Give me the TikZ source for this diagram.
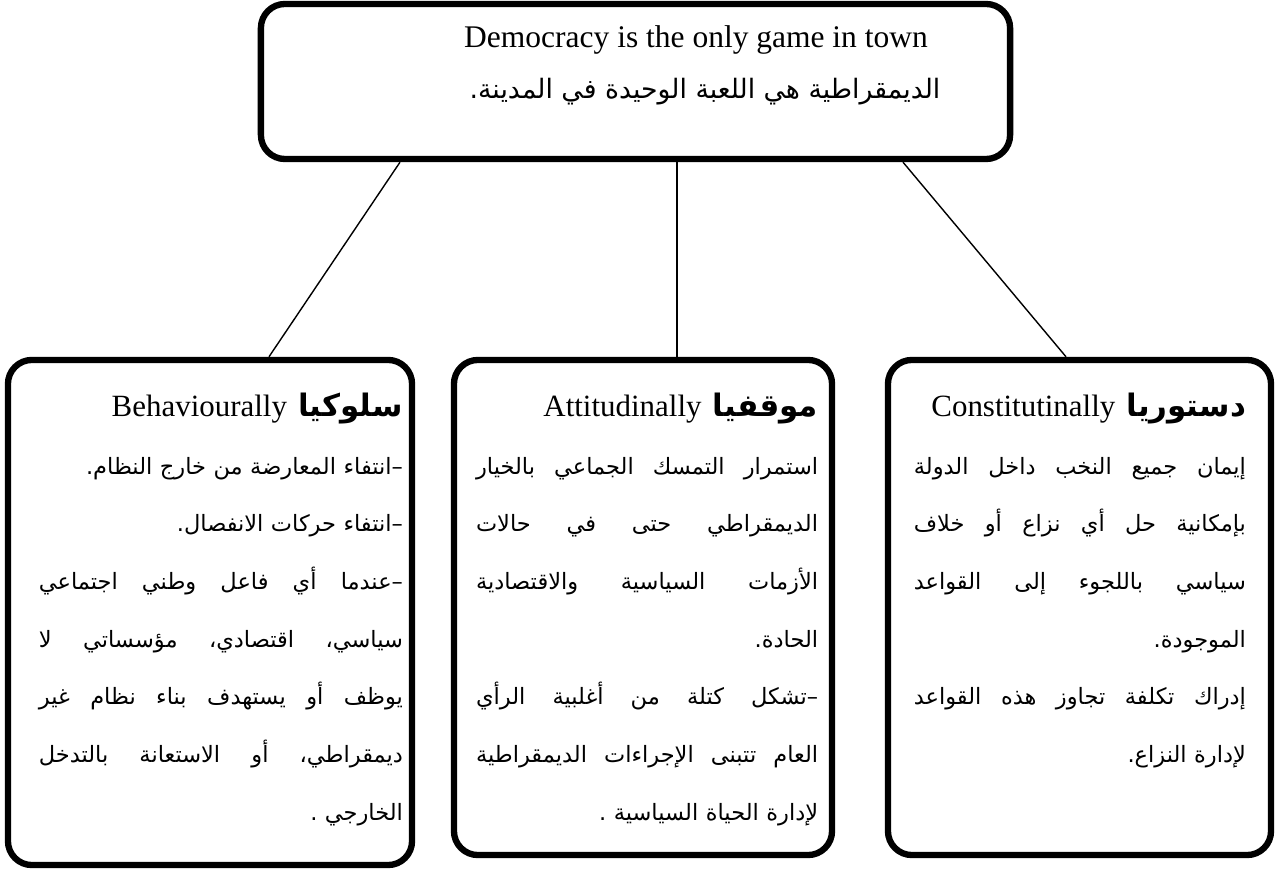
\documentclass[tikz,border=0pt]{standalone}
\usepackage{fontspec}
\setmainfont{Liberation Serif}
\newfontfamily\arabicfont[Script=Arabic]{DejaVu Sans}
\TeXXeTstate=1
\usetikzlibrary{positioning}

% justified Arabic line (words spread to both edges), last line and heading line
\def\jword#1 #2\relax{#1\ifx\relax#2\relax\else\hskip 0.3em plus 1fil\jword#2\relax\fi}
\newcommand{\jline}[1]{\hbox to \linewidth{\beginR\jword#1 \relax\endR}}
\newcommand{\lline}[1]{\hbox to \linewidth{\hfill\beginR #1\endR}}
\newcommand{\headline}[2]{\hbox to \linewidth{\hfill\beginR{\bfseries\fontsize{22}{26}\selectfont #1}\hspace{0.5em}\beginL{\rmfamily\fontsize{22}{26}\selectfont #2}\endL\endR}}

\begin{document}
\begin{tikzpicture}[x=0.025cm, y=-0.025cm,
    roundbox/.style={draw, line width=4.5pt, rounded corners=0.6cm, inner sep=0pt},
    link/.style={line width=1pt},
    body/.style={inner sep=0pt, align=right, font=\arabicfont\fontsize{16}{41}\selectfont}]
    \useasboundingbox (0,0) rectangle (1278,872);

    % Top box
    \node[roundbox, minimum width=18.725cm, minimum height=3.875cm] (top) at (635.5,81.5) {};
    \node[font=\fontsize{22.4}{26}\selectfont] (titleEn) at (696,40) {Democracy is the only game in town};
    \node[font=\arabicfont\fontsize{19}{24}\selectfont] (titleAr) at (705,92) {\beginR الديمقراطية هي اللعبة الوحيدة في المدينة.\endR};

    % Three boxes below
    \node[roundbox, minimum width=10.1cm, minimum height=12.625cm] (beh) at (210,612.5) {};
    \node[roundbox, minimum width=9.45cm, minimum height=12.375cm] (att) at (643,607.5) {};
    \node[roundbox, minimum width=9.575cm, minimum height=12.375cm] (con) at (1079.5,607.5) {};

    % Connectors
    \coordinate (l1) at (400,0);
    \coordinate (l2) at (269,0);
    \coordinate (m1) at (677,0);
    \coordinate (r1) at (903,0);
    \coordinate (r2) at (1066,0);
    \draw[link] (top.south -| l1) -- (beh.north -| l2);
    \draw[link] (top.south -| m1) -- (att.north -| m1);
    \draw[link] (top.south -| r1) -- (con.north -| r2);

    % Behaviourally
    \node[body, text width=9.1cm, below left=0.9cm and 0.3cm of beh.north east] (behText) {%
        \headline{سلوكيا}{Behaviourally}
        \lline{–انتفاء المعارضة من خارج النظام.}
        \lline{–انتفاء حركات الانفصال.}
        \jline{–عندما أي فاعل وطني اجتماعي}
        \jline{سياسي، اقتصادي، مؤسساتي لا}
        \jline{يوظف أو يستهدف بناء نظام غير}
        \jline{ديمقراطي، أو الاستعانة بالتدخل}
        \lline{الخارجي .}};

    % Attitudinally
    \node[body, text width=8.55cm, below left=0.9cm and 0.42cm of att.north east] (attText) {%
        \headline{موقفيا}{Attitudinally}
        \jline{استمرار التمسك الجماعي بالخيار}
        \jline{الديمقراطي حتى في حالات}
        \jline{الأزمات السياسية والاقتصادية}
        \lline{الحادة.}
        \jline{–تشكل كتلة من أغلبية الرأي}
        \jline{العام تتبنى الإجراءات الديمقراطية}
        \lline{لإدارة الحياة السياسية .}};

    % Constitutinally
    \node[body, text width=8.3cm, below left=0.9cm and 0.7cm of con.north east] (conText) {%
        \headline{دستوريا}{Constitutinally}
        \jline{إيمان جميع النخب داخل الدولة}
        \jline{بإمكانية حل أي نزاع أو خلاف}
        \jline{سياسي باللجوء إلى القواعد}
        \lline{الموجودة.}
        \jline{إدراك تكلفة تجاوز هذه القواعد}
        \lline{لإدارة النزاع.}};
\end{tikzpicture}
\end{document}
